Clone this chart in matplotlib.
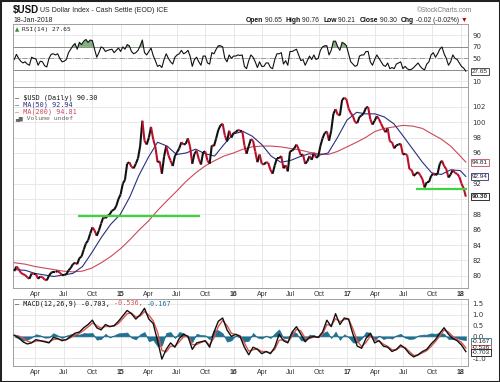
import numpy as np
import pandas as pd
import matplotlib
matplotlib.use("Agg")
import matplotlib.pyplot as plt
import matplotlib.dates as mdates
from matplotlib.collections import LineCollection
from matplotlib.patches import Rectangle

W, H = 500, 382

# weekly closes of $USD (one value per Thursday)
close_2014 = [80.6, 81.2,
              80.9, 80.4, 80.2, 80.1,
              79.8, 79.6, 80.3, 80.2,
              80.2, 79.6, 79.9, 79.8,
              79.5, 79.4, 80.0, 80.4, 80.5,
              80.5, 80.6, 80.4, 80.1,
              80.1, 80.2, 80.7, 81.0, 81.5,
              81.7, 81.5, 82.3, 82.5,
              83.4, 84.2, 84.6, 85.5,
              86.3, 85.9, 85.2, 85.9, 86.8,
              87.6, 87.5, 87.8, 88.0,
              88.5, 88.6, 89.1, 90.0]
close_2015 = [90.6, 92.0, 92.5, 94.6, 94.8,
              94.2, 94.0, 94.6, 95.3,
              96.9, 100.2, 97.6, 97.1,
              98.0, 99.4, 97.8, 96.8, 94.8,
              94.9, 93.3, 95.5, 96.9,
              95.7, 95.0, 94.3, 95.6,
              96.1, 96.6, 97.4, 97.1, 97.2,
              97.9, 96.8, 94.6, 95.9,
              96.3, 95.2, 94.5, 96.1,
              96.2, 95.0, 94.6, 97.0, 96.9,
              97.9, 99.0, 99.6, 99.8,
              98.3, 97.5, 98.9, 98.0, 98.6]
close_2016 = [98.7, 99.0, 98.9, 98.9,
              97.0, 95.9, 96.9, 97.8,
              97.6, 96.2, 94.8, 95.8, 94.6,
              94.5, 94.8, 94.7, 93.8,
              93.3, 94.4, 95.3, 95.3,
              95.6, 94.0, 94.4, 93.6, 96.2,
              96.3, 96.6, 97.1, 96.5,
              95.7, 95.8, 94.6, 94.9,
              95.6, 95.1, 96.0, 95.4, 95.5,
              96.9, 97.9, 98.6, 98.8,
              97.6, 98.9, 101.1, 101.7,
              101.0, 100.9, 102.9, 103.2, 103.0]
close_2017 = [101.8, 101.2, 100.8, 100.0,
              99.9, 100.7, 100.9, 101.2,
              101.9, 102.0, 100.4, 99.7, 100.2,
              100.8, 100.4, 99.8, 99.2,
              98.7, 99.2, 97.5, 97.4,
              96.6, 97.0, 97.1, 97.2, 95.8,
              95.9, 95.7, 93.9, 93.8,
              93.0, 93.3, 93.5, 93.1, 92.6,
              91.5, 92.2, 92.2, 93.0,
              93.3, 93.1, 93.3, 94.6,
              95.0, 94.3, 93.9, 92.8, 93.2,
              93.8, 93.4, 93.3, 92.9]
close_2018 = [92.0, 91.4, 90.3]

rsi_2014 = [48, 57, 50, 45, 42, 44, 40, 38, 52, 50, 49, 38, 45, 44,
            37, 35, 50, 57, 58, 56, 58, 50, 44, 45, 48, 60, 66, 72,
            76, 66, 78, 74, 80, 83, 78, 82, 81, 66, 52, 60, 70,
            68, 62, 64, 65, 66, 60, 64, 68]
rsi_2015 = [62, 70, 66, 74, 72, 62, 58, 60, 64, 72, 82, 60, 56,
            62, 68, 55, 46, 36, 38, 34, 48, 58, 50, 44, 40, 52,
            56, 58, 64, 58, 60, 64, 54, 36, 48, 52, 44, 38, 54,
            54, 42, 40, 60, 58, 66, 72, 72, 70, 50, 44, 56, 50, 54]
rsi_2016 = [54, 56, 55, 56, 36, 32, 46, 56, 52, 44, 34, 44, 36,
            36, 42, 42, 34, 32, 48, 58, 58, 60, 40, 46, 38, 62,
            62, 64, 66, 56, 46, 48, 38, 46, 54, 48, 56, 48, 50,
            64, 70, 72, 72, 56, 64, 80, 80, 70, 64, 78, 76, 72]
rsi_2017 = [58, 44, 40, 36, 38, 54, 56, 56, 62, 62, 44, 38, 48,
            56, 50, 44, 38, 36, 42, 32, 34, 32, 40, 42, 44, 32,
            36, 32, 30, 31, 34, 38, 42, 36, 32, 30, 40, 44, 56,
            60, 52, 58, 66, 70, 58, 50, 38, 44, 56, 50, 48, 42]
rsi_2018 = [36, 33, 27.65]

# MACD(12,26,9), one value every two weeks
macd_2014 = [0.05, -0.05, -0.25, -0.35, -0.3, -0.15, -0.2, -0.25, -0.3, -0.05,
             -0.1, -0.2, -0.15, 0.0, 0.15, 0.2, 0.4, 0.55, 0.75, 0.4,
             0.3, 0.55, 0.45, 0.5, 0.7]
macd_2015 = [0.95, 1.2, 1.05, 0.8, 1.0, 1.3, 0.8, 0.6, -0.2, -1.05,
             -0.6, -0.3, -0.5, -0.1, 0.1, 0.0, -0.6, -0.3, -0.25, -0.2,
             -0.5, 0.2, 0.7, 0.85, 0.3, 0.0]
macd_2016 = [0.1, 0.0, -0.5, -0.85, -0.5, -0.6, -0.8, -0.7, -0.8, -0.5,
             0.1, -0.2, -0.3, 0.2, 0.45, 0.1, -0.25, -0.05, 0.0, -0.05,
             0.2, 0.75, 0.45, 1.05, 0.55, 0.85]
macd_2017 = [0.8, 0.1, -0.45, -0.55, -0.1, 0.15, -0.3, -0.2, -0.45, -0.5,
             -0.7, -0.6, -0.4, -0.55, -0.8, -0.95, -0.85, -0.7, -0.6, -0.35,
             -0.15, 0.15, 0.4, 0.1, -0.1, -0.2]
macd_2018 = [-0.4, -0.703]

signal_2014 = [0.05, 0.02, -0.08, -0.22, -0.28, -0.22, -0.2, -0.22, -0.27, -0.15,
               -0.12, -0.16, -0.15, -0.06, 0.06, 0.14, 0.28, 0.44, 0.62, 0.5,
               0.38, 0.46, 0.46, 0.48, 0.6]
signal_2015 = [0.82, 1.05, 1.08, 0.9, 0.94, 1.15, 0.98, 0.72, 0.2, -0.65,
               -0.72, -0.45, -0.46, -0.25, -0.02, 0.02, -0.38, -0.38, -0.28, -0.22,
               -0.4, -0.06, 0.46, 0.74, 0.5, 0.15]
signal_2016 = [0.08, 0.03, -0.3, -0.68, -0.62, -0.58, -0.7, -0.7, -0.76, -0.6,
               -0.18, -0.15, -0.25, 0.0, 0.33, 0.25, -0.08, -0.1, -0.03, -0.04,
               0.1, 0.55, 0.5, 0.82, 0.68, 0.78]
signal_2017 = [0.8, 0.35, -0.2, -0.48, -0.28, 0.02, -0.15, -0.2, -0.36, -0.46,
               -0.62, -0.62, -0.48, -0.52, -0.7, -0.88, -0.86, -0.76, -0.66, -0.46,
               -0.24, 0.02, 0.3, 0.2, 0.0, -0.14]
signal_2018 = [-0.28, -0.536]

hist_2014 = [0.0, -0.1, -0.2, -0.15, -0.05, 0.1, 0.05, -0.06, -0.05, 0.15,
             0.05, -0.08, 0.04, 0.1, 0.12, 0.08, 0.15, 0.14, 0.16, -0.15,
             -0.12, 0.12, -0.05, 0.05, 0.14]
hist_2015 = [0.16, 0.18, -0.06, -0.14, 0.1, 0.2, -0.22, -0.16, -0.45, -0.42,
             0.16, 0.2, -0.08, 0.2, 0.15, -0.06, -0.26, 0.12, 0.06, 0.05,
             -0.14, 0.3, 0.28, 0.14, -0.24, -0.18]
hist_2016 = [0.05, -0.06, -0.24, -0.2, 0.16, -0.05, -0.1, 0.04, -0.08, 0.14,
             0.32, -0.08, -0.08, 0.24, 0.15, -0.18, -0.2, 0.08, 0.06, -0.04,
             0.14, 0.24, -0.08, 0.22, -0.16, 0.1]
hist_2017 = [-0.04, -0.28, -0.28, -0.1, 0.2, 0.16, -0.18, 0.04, -0.12, -0.06,
             -0.1, 0.05, 0.12, -0.06, -0.12, -0.1, 0.04, 0.08, 0.08, 0.14,
             0.12, 0.16, 0.12, -0.12, -0.12, -0.08]
hist_2018 = [-0.14, -0.167]

# moving averages, month-end values
ma50 = [80.8, 80.7, 80.3, 80.1, 79.9, 80.1, 80.3, 81.2, 83.0, 85.0, 86.7, 88.0,
        90.3, 93.0, 95.4, 97.4, 96.9, 95.8, 96.0, 96.5, 95.9, 95.6, 97.1, 98.5,
        98.8, 98.2, 97.1, 95.6, 94.8, 95.0, 95.5, 95.9, 95.7, 96.0, 98.0, 100.3,
        101.3, 101.1, 101.1, 100.7, 99.8, 98.2, 96.5, 94.8, 93.4, 93.2, 93.8, 93.7,
        92.94]
ma200 = [81.7, 81.5, 81.2, 81.0, 80.8, 80.6, 80.5, 80.6, 81.0, 81.7, 82.5, 83.5,
         84.7, 85.9, 87.1, 88.5, 89.8, 91.0, 92.3, 93.4, 94.3, 95.0, 95.6, 96.0,
         96.5, 96.8, 96.9, 96.9, 96.8, 96.6, 96.4, 96.1, 95.9, 95.8, 96.2, 96.8,
         97.4, 98.0, 98.8, 99.2, 99.4, 99.6, 99.5, 99.2, 98.5, 97.8, 96.9, 95.6,
         94.81]

# horizontal support lines drawn on the chart
support_levels = [87.8, 91.3]
support_start = ["2014-08-15", "2017-08-10"]
support_end = ["2015-09-15", "2018-01-22"]

tick_dates = ["2014-04-01", "2014-07-01", "2014-10-01", "2015-01-01",
              "2015-04-01", "2015-07-01", "2015-10-01", "2016-01-01",
              "2016-04-01", "2016-07-01", "2016-10-01", "2017-01-01",
              "2017-04-01", "2017-07-01", "2017-10-01", "2018-01-01"]
tick_labels = ["Apr", "Jul", "Oct", "15", "Apr", "Jul", "Oct", "16",
               "Apr", "Jul", "Oct", "17", "Apr", "Jul", "Oct", "18"]
rsi_ticks = [10, 30, 50, 70, 90]
rsi_ticklabels = ["10", "", "50", "70", "90"]
price_ticks = [80, 82, 84, 86, 88, 90, 92, 94, 96, 98, 100, 102]
price_ticklabels = ["80", "82", "84", "86", "88", "", "92", "", "96", "98", "100", "102"]
macd_ticks = [-1.0, -0.5, 0.0, 0.5, 1.0, 1.5]
macd_ticklabels = ["-1.0", "", "0.0", "0.5", "1.0", "1.5"]

close = np.array(close_2014 + close_2015 + close_2016 + close_2017 + close_2018)
rsi = np.array(rsi_2014 + rsi_2015 + rsi_2016 + rsi_2017 + rsi_2018)
macd = np.array(macd_2014 + macd_2015 + macd_2016 + macd_2017 + macd_2018)
signal = np.array(signal_2014 + signal_2015 + signal_2016 + signal_2017 + signal_2018)
hist = np.array(hist_2014 + hist_2015 + hist_2016 + hist_2017 + hist_2018)

xw = mdates.date2num(pd.date_range(end="2018-01-18", periods=len(close), freq="7D").to_pydatetime())
xb = mdates.date2num(pd.date_range(end="2018-01-18", periods=len(macd), freq="14D").to_pydatetime())
ma_dates = ([pd.Timestamp("2014-01-23")] + list(pd.date_range("2014-02-28", "2017-12-31", freq="ME"))
            + [pd.Timestamp("2018-01-18")])
xm = mdates.date2num([d.to_pydatetime() for d in ma_dates])
xticks = mdates.date2num(pd.to_datetime(tick_dates).to_pydatetime())
x0 = mdates.date2num(pd.Timestamp("2014-01-19").to_pydatetime())
x1 = mdates.date2num(pd.Timestamp("2018-01-25").to_pydatetime())

RED = "#b8102c"
BLUE = "#27307f"
MA_RED = "#c94a5a"
SIG_RED = "#d9534f"
TEAL = "#22708f"
GREEN = "#3fd43f"
SANS = "Liberation Sans"
MONO = "DejaVu Sans Mono"

fig = plt.figure(figsize=(W / 100, H / 100), dpi=100)
fig.patch.set_facecolor("white")
renderer = fig.canvas.get_renderer()


def panel(left, top, right, bottom):
    ax = fig.add_axes([left / W, 1 - bottom / H, (right - left) / W, (bottom - top) / H])
    ax.set_xlim(x0, x1)
    ax.set_xticks(xticks)
    ax.grid(True, color="#e4e4e4", lw=0.6)
    ax.set_axisbelow(True)
    ax.yaxis.tick_right()
    ax.tick_params(length=0, labelsize=5, pad=3, colors="#333333")
    for s in ax.spines.values():
        s.set_color("#a0a0a0")
        s.set_linewidth(0.7)
    return ax


def date_labels(ax):
    ax.set_xticklabels(tick_labels, fontsize=5, family=SANS)
    for t in ax.get_xticklabels():
        if t.get_text().isdigit():
            t.set_fontweight("bold")
    ax.tick_params(axis="x", pad=2)


def value_box(ax, y, text, edge, bold=False):
    ax.text(1.008, y, text, transform=ax.get_yaxis_transform(), ha="left", va="center",
            fontsize=4.6, family=SANS, color="#222222",
            fontweight="bold" if bold else "normal", clip_on=False, zorder=10,
            bbox=dict(boxstyle="square,pad=0.15", fc="white", ec=edge, lw=0.6))


def measure(s, **kw):
    t = fig.text(0, 0, s, **kw)
    w = t.get_window_extent(renderer=renderer).width
    t.remove()
    return w


def run_text(x, y, pieces, gap=0.0, align="left", **kw):
    # pieces: (text, color, weight); placed left to right in pixel coordinates
    if align == "right":
        total = sum(measure(s, fontweight=wt, **kw) + gap for s, c, wt in pieces) - gap
        x -= total
    for s, color, weight in pieces:
        t = fig.text(x / W, 1 - y / H, s, color=color, fontweight=weight,
                     ha="left", va="center", **kw)
        x += t.get_window_extent(renderer=renderer).width + gap
    return x


# ---- RSI panel
ax_rsi = panel(13, 24, 468, 87)
ax_rsi.set_ylim(0, 110)
ax_rsi.set_yticks(rsi_ticks)
ax_rsi.set_yticklabels(rsi_ticklabels)
ax_rsi.tick_params(axis="x", labelbottom=False)
ax_rsi.axhline(70, color="#8c8c8c", lw=0.7)
ax_rsi.axhline(30, color="#8c8c8c", lw=0.7)
ax_rsi.axhline(50, color="#8c8c8c", lw=0.6, ls="-.")
ax_rsi.fill_between(xw, rsi, 70, where=rsi > 70, interpolate=True, color="#7fb27f", lw=0)
ax_rsi.plot(xw, rsi, color="#111111", lw=0.8)
value_box(ax_rsi, rsi[-1], "27.65", "#333333")

# ---- price panel
ax_p = panel(13, 87, 468, 288)
ax_p.set_ylim(78.4, 104.6)
ax_p.set_yticks(price_ticks)
ax_p.set_yticklabels(price_ticklabels)
date_labels(ax_p)
ax_p.plot(xm, ma200, color=MA_RED, lw=0.8, zorder=3)
ax_p.plot(xm, ma50, color=BLUE, lw=0.8, zorder=3)
pts = np.column_stack([xw, close])
segs = np.stack([pts[:-1], pts[1:]], axis=1)
seg_colors = ["#111111" if b >= a else RED for a, b in zip(close[:-1], close[1:])]
ax_p.add_collection(LineCollection(segs, colors=seg_colors, linewidths=1.5, zorder=4))
for lvl, s, e in zip(support_levels, support_start, support_end):
    ax_p.hlines(lvl, mdates.date2num(pd.Timestamp(s).to_pydatetime()),
                mdates.date2num(pd.Timestamp(e).to_pydatetime()),
                color=GREEN, lw=1.6, zorder=5)
value_box(ax_p, ma200[-1], "94.81", MA_RED)
value_box(ax_p, ma50[-1], "92.94", BLUE)
value_box(ax_p, close[-1], "90.30", "#111111", bold=True)

# ---- MACD panel
ax_m = panel(13, 299, 468, 366)
ax_m.set_ylim(-1.37, 1.73)
ax_m.set_yticks(macd_ticks)
ax_m.set_yticklabels(macd_ticklabels)
date_labels(ax_m)
ax_m.fill_between(xb, 0, hist, color=TEAL, ec=TEAL, lw=0.5, zorder=2)
ax_m.plot(xb, signal, color=SIG_RED, lw=1.0, zorder=3)
ax_m.plot(xb, macd, color="#111111", lw=1.0, zorder=4)
value_box(ax_m, hist[-1] - 0.06, "-0.167", TEAL)
value_box(ax_m, signal[-1], "-0.536", SIG_RED)
value_box(ax_m, macd[-1] - 0.04, "-0.703", "#111111")

# ---- header
run_text(13, 10, [("$USD", "#111111", "bold")], fontsize=7, family=SANS)
run_text(39.5, 10, [("US Dollar Index - Cash Settle (EOD) ICE", "#222222", "normal")],
         fontsize=5, family=SANS)
fig.text(13 / W, 1 - 20 / H, "18-Jan-2018", fontsize=5, family=SANS,
         ha="left", va="center", color="#222222")
fig.text(472 / W, 1 - 10 / H, "\u00a9StockCharts.com", fontsize=4.8, family=SANS,
         ha="right", va="center", color="#777777")
run_text(467, 20, [("Open", "#111111", "bold"), (" 90.65  ", "#222222", "normal"),
                   ("High", "#111111", "bold"), (" 90.76  ", "#222222", "normal"),
                   ("Low", "#111111", "bold"), (" 90.21  ", "#222222", "normal"),
                   ("Close", "#111111", "bold"), (" 90.30  ", "#222222", "normal"),
                   ("Chg", "#111111", "bold"), (" -0.02 (-0.02%) ", "#222222", "normal"),
                   ("\u25bc", "#cc0000", "normal")],
         align="right", fontsize=4.9, family=SANS)

# ---- panel legends
fig.text(15 / W, 1 - 30 / H, "\u25b2", fontsize=4, color="#3a8a3a", ha="left", va="center")
fig.text(22 / W, 1 - 30 / H, "RSI(14) 27.65", fontsize=4.4, family=MONO, ha="left",
         va="center", color="#222222")
legend_rows = [("\u2014 $USD (Daily) 90.30", "#111111", 98),
               ("\u2014 MA(50) 92.94", BLUE, 105),
               ("\u2014 MA(200) 94.81", MA_RED, 112)]
for s, c, y in legend_rows:
    fig.text(15 / W, 1 - y / H, s, fontsize=4.9, family=MONO, ha="left", va="center", color=c)
fig.text(15 / W, 1 - 118.5 / H, "\u2583\u2585 Volume undef", fontsize=4.6, family=MONO,
         ha="left", va="center", color="#666666")
run_text(15, 303.5, [("\u2014 MACD(12,26,9) -0.703, ", "#111111", "normal"),
                     ("-0.536, ", SIG_RED, "normal"),
                     ("-0.167", TEAL, "normal")], fontsize=4.9, family=MONO)

fig.add_artist(Rectangle((0, 0), 1, 1, transform=fig.transFigure, fill=False,
                         ec="#222222", lw=2.2))

fig.savefig("out.png", dpi=100)
